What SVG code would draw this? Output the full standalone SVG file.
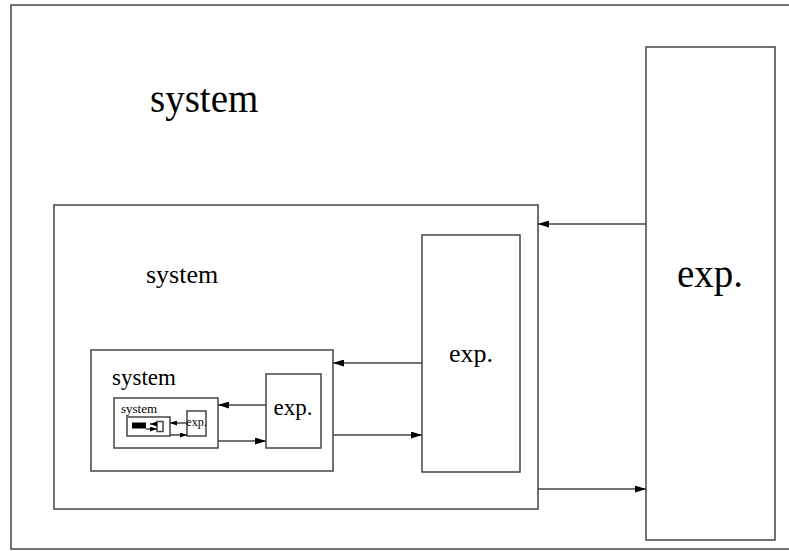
<svg xmlns="http://www.w3.org/2000/svg" width="789" height="551" viewBox="0 0 789 551">
<style>
.b{fill:#fff;stroke:#444;stroke-width:1.5}
.c{fill:none;stroke:#444;stroke-width:1.5}
.t{font-family:"Liberation Serif",serif;fill:#000}
</style>
<defs>
<marker id="a" markerWidth="11" markerHeight="7" refX="11" refY="3.5" orient="auto" markerUnits="userSpaceOnUse"><path d="M0,0L11,3.5L0,7z" fill="#000"/></marker>
<marker id="s" markerWidth="7" markerHeight="5" refX="7" refY="2.5" orient="auto" markerUnits="userSpaceOnUse"><path d="M0,0L7,2.5L0,5z" fill="#000"/></marker>
</defs>
<rect width="789" height="551" fill="#fff"/>
<g id="frame"><rect class="b" x="11" y="5" width="790" height="544"/></g>
<g id="sys0"><text class="t" x="150" y="112" font-size="39">system</text></g>
<g id="exp0"><rect class="b" x="646" y="47" width="129" height="493"/><text class="t" x="710" y="287" font-size="39" text-anchor="middle">exp.</text></g>
<g id="sys1"><rect class="b" x="54" y="205" width="484" height="304"/><text class="t" x="146" y="283" font-size="26">system</text></g>
<g id="exp1"><rect class="b" x="422" y="235" width="98" height="237"/><text class="t" x="471" y="362" font-size="26" text-anchor="middle">exp.</text></g>
<g id="sys2"><rect class="b" x="91" y="350" width="242" height="121"/><text class="t" x="112" y="385" font-size="23">system</text></g>
<g id="exp2"><rect class="b" x="266" y="374" width="55" height="74"/><text class="t" x="293" y="415" font-size="23" text-anchor="middle">exp.</text></g>
<g id="sys3"><rect class="b" x="114" y="398" width="104" height="50"/><text class="t" x="121" y="413" font-size="13">system</text></g>
<g id="exp3"><rect class="b" x="187" y="411" width="19" height="25"/><text class="t" x="196.5" y="426" font-size="12" text-anchor="middle">exp.</text></g>
<g id="sys4"><rect class="b" x="127" y="417" width="43" height="19"/><rect x="132" y="422.5" width="14" height="6" fill="#000"/></g>
<g id="exp4"><rect class="b" x="157" y="421.5" width="6" height="10"/></g>
<g id="connectors">
<line class="c" x1="646" y1="224" x2="538" y2="224" marker-end="url(#a)"/>
<line class="c" x1="538" y1="489" x2="646" y2="489" marker-end="url(#a)"/>
<line class="c" x1="422" y1="363" x2="333" y2="363" marker-end="url(#a)"/>
<line class="c" x1="333" y1="435" x2="422" y2="435" marker-end="url(#a)"/>
<line class="c" x1="266" y1="405" x2="218" y2="405" marker-end="url(#a)"/>
<line class="c" x1="218" y1="441" x2="266" y2="441" marker-end="url(#a)"/>
<line class="c" x1="187" y1="423" x2="170" y2="423" marker-end="url(#s)"/>
<line class="c" x1="170" y1="435" x2="187" y2="435" marker-end="url(#s)"/>
<line class="c" x1="157" y1="424" x2="150" y2="424" marker-end="url(#s)"/>
<line class="c" x1="146" y1="429" x2="157" y2="429" marker-end="url(#s)"/>
</g>
</svg>
